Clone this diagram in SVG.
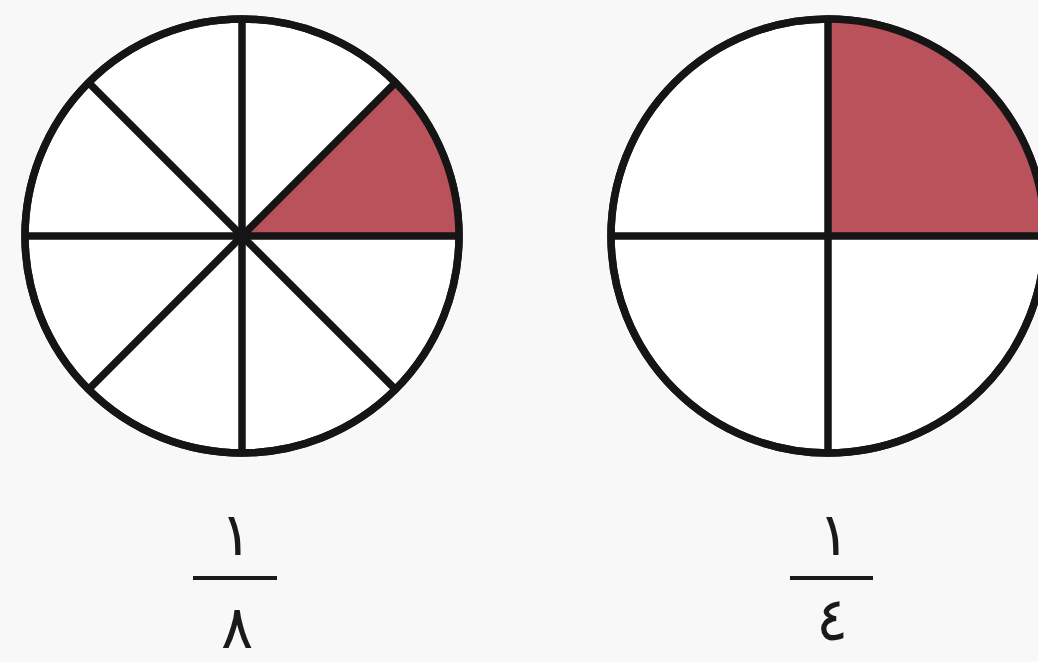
<svg xmlns="http://www.w3.org/2000/svg" width="1038" height="662" viewBox="0 0 1038 662">
<style>
.ring{fill:#ffffff;stroke:#151515;stroke-width:7.5}
.div{stroke:#151515;stroke-width:7.5;stroke-linecap:butt}
.shade{fill:#b9525a}
.bar{stroke:#1a1a1a;stroke-width:4}
.num{font-family:"DejaVu Sans",sans-serif;font-size:60px;fill:#1a1a1a;text-anchor:middle}
</style>
<rect width="1038" height="662" fill="#f8f8f8"/>
<g id="circle-eighths">
<circle class="ring" cx="242" cy="236" r="217"/>
<path class="shade" d="M242,236 L459,236 A217,217 0 0 0 395.4,82.6 Z"/>
<line class="div" x1="242" y1="19" x2="242" y2="453"/>
<line class="div" x1="25" y1="236" x2="459" y2="236"/>
<line class="div" x1="88.6" y1="82.6" x2="395.4" y2="389.4"/>
<line class="div" x1="395.4" y1="82.6" x2="88.6" y2="389.4"/>
<circle cx="242" cy="236" r="217" fill="none" stroke="#151515" stroke-width="7.5"/>
</g>
<g id="circle-quarters">
<circle class="ring" cx="828" cy="236" r="217"/>
<path class="shade" d="M828,236 L1045,236 A217,217 0 0 0 828,19 Z"/>
<line class="div" x1="828" y1="19" x2="828" y2="453"/>
<line class="div" x1="611" y1="236" x2="1045" y2="236"/>
<circle cx="828" cy="236" r="217" fill="none" stroke="#151515" stroke-width="7.5"/>
</g>
<g id="label-eighth">
<text class="num" x="236" y="555">١</text>
<line class="bar" x1="193" y1="578" x2="277" y2="578"/>
<text class="num" x="237" y="648">٨</text>
</g>
<g id="label-quarter">
<text class="num" x="834" y="555">١</text>
<line class="bar" x1="790" y1="578" x2="873" y2="578"/>
<text class="num" x="832" y="640">٤</text>
</g>
</svg>
